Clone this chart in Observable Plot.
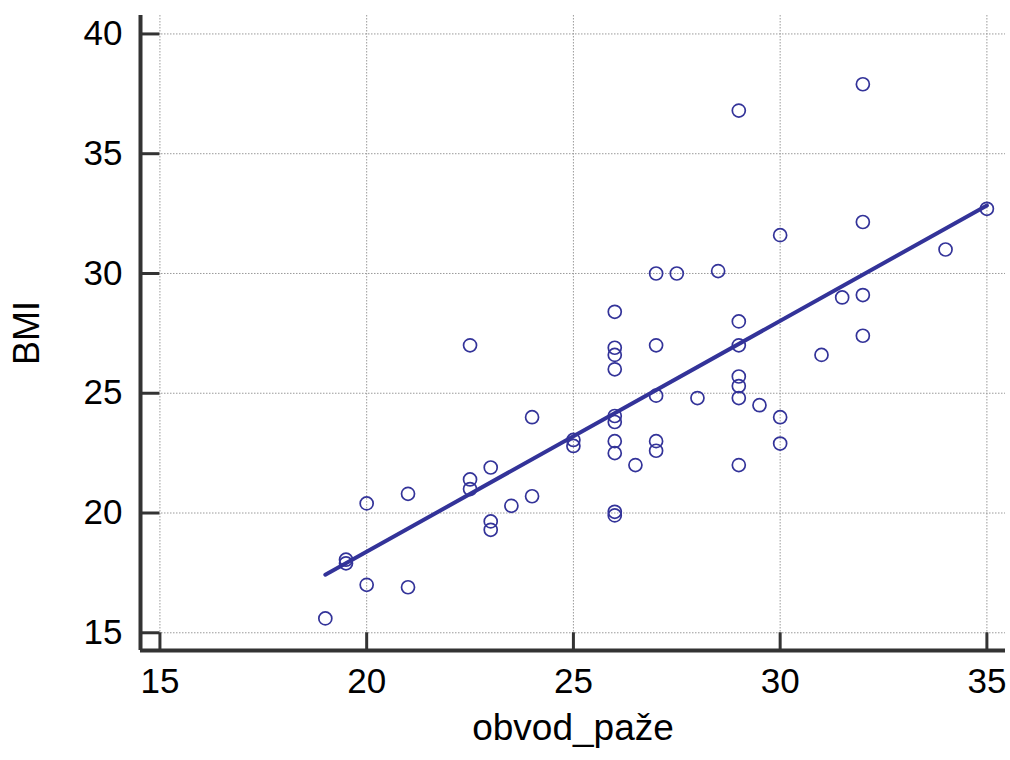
<!DOCTYPE html>
<html><head><meta charset="utf-8">
<script src="https://cdn.jsdelivr.net/npm/d3@7"></script>
<script src="https://cdn.jsdelivr.net/npm/@observablehq/plot@0.6"></script>
<style>body{margin:0;background:#fff}</style>
</head><body><div id="chart"></div>
<script>
// obvod_paže (x) and BMI (y)
const obvodPaze = [19, 19.5, 19.5, 20, 20, 21, 21, 22.5, 22.5, 22.5, 23, 23, 23, 23.5, 24, 24, 25, 25,
  26, 26, 26, 26, 26, 26, 26, 26, 26, 26, 26.5, 27, 27, 27, 27, 27, 27.5, 28, 28.5,
  29, 29, 29, 29, 29, 29, 29, 29.5, 30, 30, 30, 31, 31.5, 32, 32, 32, 32, 34, 35];
const bmi = [15.6, 18.05, 17.9, 20.4, 17.0, 20.8, 16.9, 27.0, 21.4, 21.0, 21.9, 19.65, 19.3, 20.3, 24.0, 20.7, 23.05, 22.8,
  28.4, 26.9, 26.6, 26.0, 24.05, 23.8, 23.0, 22.5, 20.05, 19.9, 22.0, 30.0, 27.0, 24.9, 23.0, 22.6, 30.0, 24.8, 30.1,
  36.8, 28.0, 27.0, 25.7, 25.3, 24.8, 22.0, 24.5, 31.6, 24.0, 22.9, 26.6, 29.0, 37.9, 32.15, 29.1, 27.4, 31.0, 32.7];
const xTicks = [15, 20, 25, 30, 35];
const yTicks = [15, 20, 25, 30, 35, 40];
const xDomain = [14.53, 35.45];
const yDomain = [14.26, 40.77];
const xLabel = "obvod_paže";
const yLabel = "BMI";

const data = obvodPaze.map((x, i) => ({x, y: bmi[i]}));
const ink = "#333399";
const axisInk = "#333333";
const grid = {stroke: "#9a9a9a", strokeOpacity: 1, strokeWidth: 1, strokeDasharray: "1.5,1.5"};

const chart = Plot.plot({
  width: 1010, height: 760,
  marginLeft: 140, marginRight: 5, marginTop: 15, marginBottom: 110,
  style: {fontFamily: "'Liberation Sans', Arial, sans-serif", fontSize: "35px", color: "#000", background: "#fff"},
  x: {domain: xDomain},
  y: {domain: yDomain},
  marks: [
    Plot.gridX({ticks: xTicks, ...grid}),
    Plot.gridY({ticks: yTicks, ...grid}),
    Plot.ruleX(xTicks, {y1: yDomain[0], y2: yTicks[0], stroke: axisInk, strokeWidth: 3}),
    Plot.ruleY(yTicks, {x1: xDomain[0], x2: xTicks[0], stroke: axisInk, strokeWidth: 3}),
    Plot.axisX({ticks: xTicks, tickSize: 0, tickPadding: 18, fontSize: 35, label: null}),
    Plot.axisY({ticks: yTicks, tickSize: 0, tickPadding: 18, fontSize: 35, label: null}),
    Plot.ruleX([xDomain[0]], {stroke: axisInk, strokeWidth: 4}),
    Plot.ruleY([yDomain[0]], {stroke: axisInk, strokeWidth: 4}),
    Plot.linearRegressionY(data, {x: "x", y: "y", stroke: ink, strokeWidth: 4, ci: 0}),
    Plot.dot(data, {x: "x", y: "y", r: 6.5, stroke: ink, strokeWidth: 1.7, fill: "none"}),
    Plot.text([xLabel], {frameAnchor: "bottom", dy: 89, lineAnchor: "bottom", fontSize: 37, fill: "#000"}),
    Plot.text([yLabel], {frameAnchor: "left", dx: -113, rotate: -90, lineAnchor: "middle", textAnchor: "middle", fontSize: 36, fill: "#000"})
  ]
});
document.getElementById("chart").append(chart);
</script>
</body></html>
